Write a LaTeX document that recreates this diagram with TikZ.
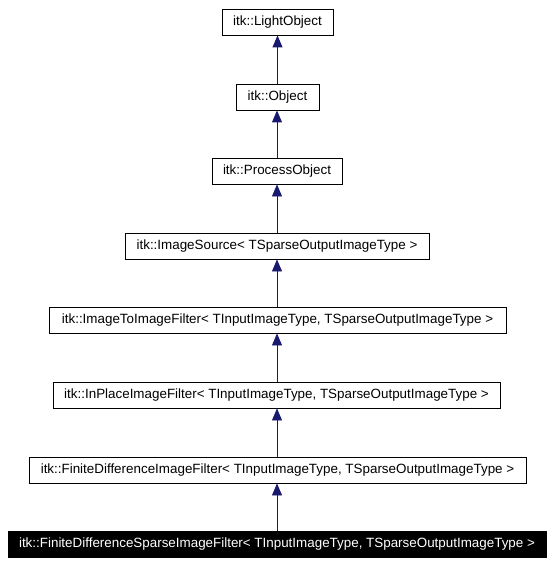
\documentclass[tikz,border=0pt]{standalone}
\usepackage{fontspec}
\setmainfont{Liberation Sans}
\usepackage{tikz}
\usetikzlibrary{arrows.meta}

\definecolor{edgeblue}{RGB}{25,25,112}

\tikzset{
  classbox/.style={draw=black, fill=white, line width=0.9pt, minimum height=26pt,
    inner xsep=0pt, font=\fontsize{13.4}{15}\selectfont},
  classfocus/.style={classbox, fill=black, text=white},
  inherit/.style={draw=edgeblue, line width=0.9pt,
    -{Triangle[width=10pt,length=12pt]}, edgeblue}
}

\begin{document}
\begin{tikzpicture}[x=1pt,y=-1pt]
  \useasboundingbox (0,0) rectangle (554,564);

  \node[classbox, minimum width=111pt] (LightObject) at (277.5,22) {itk::LightObject};
  \node[classbox, minimum width=83pt] (Object) at (277.5,97) {itk::Object};
  \node[classbox, minimum width=130pt] (ProcessObject) at (277,171) {itk::ProcessObject};
  \node[classbox, minimum width=304pt] (ImageSource) at (277,246)
    {itk::ImageSource< TSparseOutputImageType >};
  \node[classbox, minimum width=457pt] (ImageToImageFilter) at (277.5,320)
    {itk::ImageToImageFilter< TInputImageType, TSparseOutputImageType >};
  \node[classbox, minimum width=447pt] (InPlaceImageFilter) at (276.5,395)
    {itk::InPlaceImageFilter< TInputImageType, TSparseOutputImageType >};
  \node[classbox, minimum width=497pt] (FiniteDifferenceImageFilter) at (277.5,470)
    {itk::FiniteDifferenceImageFilter< TInputImageType, TSparseOutputImageType >};
  \node[classfocus, minimum width=538pt] (FiniteDifferenceSparseImageFilter) at (277,544)
    {itk::FiniteDifferenceSparseImageFilter< TInputImageType, TSparseOutputImageType >};

  % inheritance
  \draw[inherit] (Object.north) -- (Object.north |- LightObject.south);
  \draw[inherit] (ProcessObject.north) -- (ProcessObject.north |- Object.south);
  \draw[inherit] (ImageSource.north) -- (ImageSource.north |- ProcessObject.south);
  \draw[inherit] (ImageToImageFilter.north -| ImageSource.north) -- (ImageSource.south);
  \draw[inherit] (InPlaceImageFilter.north -| ImageSource.north) -- (ImageSource.south |- ImageToImageFilter.south);
  \draw[inherit] (FiniteDifferenceImageFilter.north -| ImageSource.north) -- (ImageSource.south |- InPlaceImageFilter.south);
  \draw[inherit] (FiniteDifferenceSparseImageFilter.north -| ImageSource.north) -- (ImageSource.south |- FiniteDifferenceImageFilter.south);

\end{tikzpicture}
\end{document}
